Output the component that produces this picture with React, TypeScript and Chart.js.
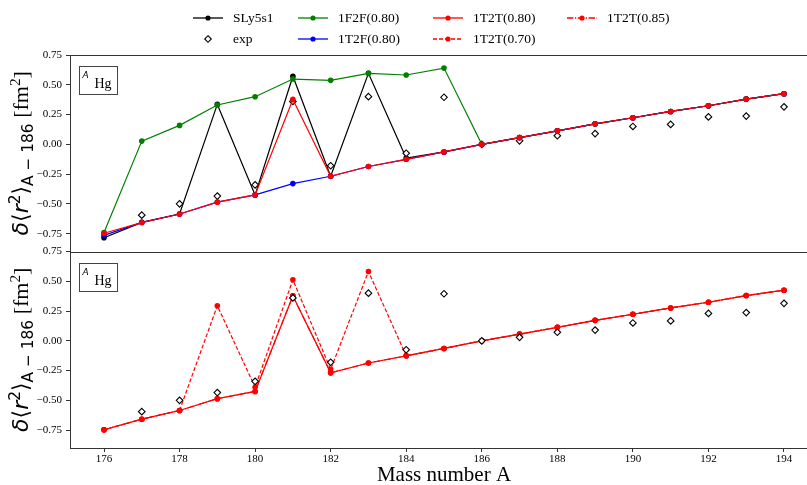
import React, { useEffect, useRef } from 'react';
import { Chart, registerables } from 'chart.js';

Chart.register(...registerables);

// ---------------- data ----------------
const massNumbers = [176, 177, 178, 179, 180, 181, 182, 183, 184, 185, 186, 187, 188, 189, 190, 191, 192, 193, 194];
const xTickValues = [176, 178, 180, 182, 184, 186, 188, 190, 192, 194];
const yTickValues = [-0.75, -0.5, -0.25, 0, 0.25, 0.5, 0.75];

const sly5s1 = [-0.785, -0.655, -0.585, 0.335, -0.425, 0.572, -0.268, 0.596, -0.115, -0.064, 0.0, 0.056, 0.113, 0.172, 0.223, 0.276, 0.324, 0.38, 0.425];
const expValues = [null, -0.595, -0.5, -0.435, -0.34, 0.36, -0.18, 0.4, -0.075, 0.395, 0.0, 0.029, 0.072, 0.09, 0.15, 0.167, 0.23, 0.237, 0.315];
const f2f080 = [-0.74, 0.027, 0.159, 0.33, 0.4, 0.548, 0.537, 0.596, 0.582, 0.64, 0.0, 0.056, 0.113, 0.172, 0.223, 0.276, 0.324, 0.38, 0.425];
const t2f080 = [-0.765, -0.655, -0.585, -0.485, -0.425, -0.33, -0.268, -0.186, -0.126, -0.064, 0.0, 0.056, 0.113, 0.172, 0.223, 0.276, 0.324, 0.38, 0.425];
const t2t080 = [-0.747, -0.658, -0.585, -0.486, -0.425, 0.377, -0.269, -0.186, -0.126, -0.064, 0.0, 0.056, 0.113, 0.172, 0.223, 0.276, 0.324, 0.38, 0.425];
const t2t070 = [-0.747, -0.658, -0.585, 0.295, -0.39, 0.513, -0.24, 0.582, -0.126, -0.064, 0.0, 0.056, 0.113, 0.172, 0.223, 0.276, 0.324, 0.38, 0.425];
const t2t085 = [-0.747, -0.658, -0.585, -0.486, -0.425, 0.377, -0.269, -0.186, -0.126, -0.064, 0.0, 0.056, 0.113, 0.172, 0.223, 0.276, 0.324, 0.38, 0.425];

const xMin = 175.1;
const xMax = 194.9;
const yMin = -0.9;
const yMax = 0.75;

// ---------------- style ----------------
const SERIF = '"Liberation Serif", "Times New Roman", serif';
const SANS = '"DejaVu Sans", sans-serif';
const SPINE = '#333333';
const CANVAS_W = 840;
const CANVAS_H = 485;

const pts = (vals: (number | null)[]) => massNumbers.map((x, i) => ({ x, y: vals[i] }));

function lineDs(label: string, vals: (number | null)[], color: string, axis: string, dash: number[] = []) {
  return {
    label,
    data: pts(vals),
    yAxisID: axis,
    borderColor: color,
    backgroundColor: color,
    borderWidth: 1.2,
    borderDash: dash,
    pointRadius: 2.8,
    pointBorderWidth: 0,
    pointHoverRadius: 0,
    tension: 0,
    fill: false,
  };
}

function expDs(axis: string) {
  return {
    label: 'exp',
    data: pts(expValues),
    yAxisID: axis,
    showLine: false,
    borderColor: '#000',
    backgroundColor: '#fff',
    pointStyle: 'rectRot',
    pointRadius: 3.3,
    pointBorderWidth: 1.1,
    pointHoverRadius: 0,
  };
}

const DASH = [4, 2];
const DASHDOT = [6.4, 1.6, 1.2, 1.6];

const legendItems = [
  { label: 'SLy5s1', color: '#000000', dash: [] as number[], marker: 'circle', col: 0, row: 0 },
  { label: 'exp', color: '#000000', dash: [] as number[], marker: 'diamond', col: 0, row: 1 },
  { label: '1F2F(0.80)', color: '#008000', dash: [] as number[], marker: 'circle', col: 1, row: 0 },
  { label: '1T2F(0.80)', color: '#0000ff', dash: [] as number[], marker: 'circle', col: 1, row: 1 },
  { label: '1T2T(0.80)', color: '#ff0000', dash: [] as number[], marker: 'circle', col: 2, row: 0 },
  { label: '1T2T(0.70)', color: '#ff0000', dash: DASH, marker: 'circle', col: 2, row: 1 },
  { label: '1T2T(0.85)', color: '#ff0000', dash: DASHDOT, marker: 'circle', col: 3, row: 0 },
];
const legendColX = [193, 298, 433, 567];
const legendRowY = [18, 39];

function drawYLabel(ctx: CanvasRenderingContext2D, cx: number, cy: number) {
  const big = 22;
  const small = 15.4;
  const parts = [
    { t: 'δ', f: `italic ${big}px ${SANS}`, dy: 0 },
    { t: '⟨', f: `${big}px ${SANS}`, dy: 0 },
    { t: 'r', f: `italic ${big}px ${SANS}`, dy: 0 },
    { t: '2', f: `${small}px ${SANS}`, dy: -8 },
    { t: '⟩', f: `${big}px ${SANS}`, dy: 0 },
    { t: 'A − 186', f: `${small}px ${SANS}`, dy: 5 },
    { t: ' [fm', f: `${big}px ${SERIF}`, dy: 0 },
    { t: '2', f: `${small}px ${SERIF}`, dy: -8 },
    { t: ']', f: `${big}px ${SERIF}`, dy: 0 },
  ];
  ctx.save();
  ctx.translate(cx, cy);
  ctx.rotate(-Math.PI / 2);
  ctx.textBaseline = 'alphabetic';
  ctx.textAlign = 'left';
  ctx.fillStyle = '#000';
  let total = 0;
  const widths = parts.map((p) => {
    ctx.font = p.f;
    const w = ctx.measureText(p.t).width;
    total += w;
    return w;
  });
  let x = -total / 2;
  parts.forEach((p, i) => {
    ctx.font = p.f;
    ctx.fillText(p.t, x, p.dy);
    x += widths[i];
  });
  ctx.restore();
}

function drawMarker(ctx: CanvasRenderingContext2D, kind: string, x: number, y: number, color: string) {
  ctx.save();
  ctx.setLineDash([]);
  if (kind === 'diamond') {
    const r = 3.3;
    ctx.beginPath();
    ctx.moveTo(x, y - r);
    ctx.lineTo(x + r, y);
    ctx.lineTo(x, y + r);
    ctx.lineTo(x - r, y);
    ctx.closePath();
    ctx.fillStyle = '#fff';
    ctx.fill();
    ctx.strokeStyle = '#000';
    ctx.lineWidth = 1.1;
    ctx.stroke();
  } else {
    ctx.beginPath();
    ctx.arc(x, y, 2.6, 0, Math.PI * 2);
    ctx.fillStyle = color;
    ctx.fill();
  }
  ctx.restore();
}

const decorPlugin = {
  id: 'decor',
  afterDraw(chart: any) {
    const ctx: CanvasRenderingContext2D = chart.ctx;
    const { left, right } = chart.chartArea;
    const panels = [chart.scales.yTop, chart.scales.yBot];
    ctx.save();
    // frames
    ctx.strokeStyle = SPINE;
    ctx.lineWidth = 1;
    panels.forEach((s: any) => {
      const l = Math.round(left) + 0.5;
      const t = Math.round(s.top) + 0.5;
      const b = Math.round(s.bottom) + 0.5;
      ctx.strokeRect(l, t, right - l, b - t);
    });
    // annotation boxes
    panels.forEach((s: any) => {
      const bx = Math.round(left) + 9.5;
      const by = Math.round(s.top) + 11.5;
      ctx.fillStyle = '#fff';
      ctx.fillRect(bx, by, 38, 28);
      ctx.strokeStyle = '#444';
      ctx.lineWidth = 1;
      ctx.strokeRect(bx, by, 38, 28);
      ctx.fillStyle = '#000';
      ctx.textBaseline = 'alphabetic';
      ctx.textAlign = 'left';
      ctx.font = `italic 9px ${SANS}`;
      ctx.fillText('A', bx + 3, by + 11.5);
      ctx.font = `14px ${SERIF}`;
      ctx.fillText('Hg', bx + 15, by + 21);
    });
    // y labels
    panels.forEach((s: any) => {
      drawYLabel(ctx, 28, (s.top + s.bottom) / 2);
    });
    // x title
    ctx.fillStyle = '#000';
    ctx.font = `21px ${SERIF}`;
    ctx.textAlign = 'center';
    ctx.textBaseline = 'alphabetic';
    ctx.fillText('Mass number A', (left + right) / 2, 481);
    // legend
    legendItems.forEach((it) => {
      const x0 = legendColX[it.col];
      const y0 = legendRowY[it.row];
      if (it.marker !== 'diamond') {
        ctx.save();
        ctx.strokeStyle = it.color;
        ctx.lineWidth = 1.3;
        ctx.setLineDash(it.dash);
        ctx.beginPath();
        ctx.moveTo(x0, y0);
        ctx.lineTo(x0 + 30, y0);
        ctx.stroke();
        ctx.restore();
      }
      drawMarker(ctx, it.marker, x0 + 15, y0, it.color);
      ctx.fillStyle = '#000';
      ctx.font = `13.5px ${SERIF}`;
      ctx.textAlign = 'left';
      ctx.textBaseline = 'middle';
      ctx.fillText(it.label, x0 + 40, y0 + 0.5);
    });
    ctx.restore();
  },
};

const yTickFmt = (v: any) => {
  const n = Number(v);
  const s = Math.abs(n).toFixed(2);
  return n < -1e-9 ? '−' + s : s;
};

function yAxis(extra: any) {
  return {
    type: 'linear',
    position: 'left',
    stack: 'panels',
    stackWeight: 1,
    min: yMin,
    max: yMax,
    afterBuildTicks: (s: any) => {
      s.ticks = yTickValues.map((v) => ({ value: v }));
    },
    afterFit: (s: any) => {
      s.width = 70;
    },
    ticks: {
      color: '#000',
      font: { family: SERIF, size: 11 },
      padding: 4,
      callback: yTickFmt,
    },
    grid: { drawOnChartArea: false, drawTicks: true, tickLength: 4, color: SPINE, lineWidth: 1 },
    border: { display: false },
    ...extra,
  };
}

export default function App() {
  const ref = useRef<HTMLCanvasElement>(null);
  useEffect(() => {
    const canvas = ref.current;
    if (!canvas) return;
    const n = 0;
    const topSets = [
      lineDs('SLy5s1', sly5s1, '#000000', 'yTop'),
      expDs('yTop'),
      lineDs('1F2F(0.80)', f2f080, '#008000', 'yTop'),
      lineDs('1T2F(0.80)', t2f080, '#0000ff', 'yTop'),
      lineDs('1T2T(0.80)', t2t080, '#ff0000', 'yTop'),
    ];
    const botSets = [
      lineDs('1T2T(0.80)', t2t080, '#ff0000', 'yBot'),
      lineDs('1T2T(0.70)', t2t070, '#ff0000', 'yBot', DASH),
      lineDs('1T2T(0.85)', t2t085, '#ff0000', 'yBot', DASHDOT),
      expDs('yBot'),
    ];
    const datasets = [...topSets, ...botSets].map((d: any, i) => ({ ...d, order: n - i }));
    const chart = new Chart(canvas, {
      type: 'line',
      data: { datasets } as any,
      options: {
        responsive: false,
        animation: false,
        events: [],
        layout: { padding: { top: 55, right: 22, bottom: 0, left: 0 } },
        plugins: { legend: { display: false }, tooltip: { enabled: false }, title: { display: false } },
        scales: {
          x: {
            type: 'linear',
            position: 'bottom',
            min: xMin,
            max: xMax,
            afterBuildTicks: (s: any) => {
              s.ticks = xTickValues.map((v) => ({ value: v }));
            },
            afterFit: (s: any) => {
              s.height = 37;
            },
            ticks: {
              color: '#000',
              font: { family: SERIF, size: 11 },
              padding: 1,
              maxRotation: 0,
              autoSkip: false,
              callback: (v: any) => String(v),
            },
            grid: { drawOnChartArea: false, drawTicks: true, tickLength: 4, color: SPINE, lineWidth: 1 },
            border: { display: false },
          },
          yBot: yAxis({}),
          yTop: yAxis({}),
        } as any,
      },
      plugins: [decorPlugin],
    } as any);
    return () => chart.destroy();
  }, []);
  return (
    <div style={{ position: 'fixed', left: 0, top: 0, width: 807, height: 485, overflow: 'hidden', background: '#fff' }}>
      <canvas ref={ref} width={CANVAS_W} height={CANVAS_H} style={{ width: CANVAS_W, height: CANVAS_H, display: 'block' }} />
    </div>
  );
}
